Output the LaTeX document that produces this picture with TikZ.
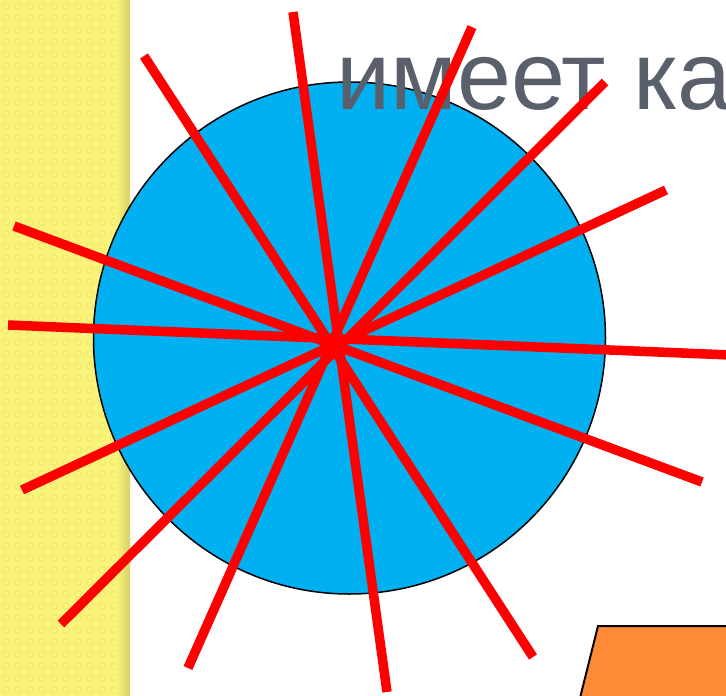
\documentclass[tikz,border=0pt]{standalone}
\usepackage{fontspec}
\setmainfont{Liberation Sans}
\definecolor{strip}{RGB}{250,244,122}
\definecolor{stripdot}{RGB}{244,236,114}
\definecolor{stripdark}{RGB}{215,208,100}
\definecolor{circfill}{RGB}{0,176,240}
\definecolor{textgray}{RGB}{89,95,107}
\definecolor{orangefill}{RGB}{255,138,56}
\tikzset{
  ray/.style={draw=red, line width=9.5pt, line cap=butt},
  disc/.style={fill=circfill, draw=black, line width=1.5pt},
  plate/.style={fill=orangefill, draw=black, line width=2pt},
  title/.style={anchor=base west, inner sep=0pt, text=textgray, font=\fontsize{97}{100}\selectfont}
}
\begin{document}
\begin{tikzpicture}[x=1pt,y=-1pt]
\useasboundingbox (0,0) rectangle (726,696);
\begin{scope}
\clip (0,0) rectangle (726,696);
\fill[white] (0,0) rectangle (726,696);
\fill[strip] (0,0) rectangle (130,696);
\foreach \i in {0,...,10}{
  \foreach \j in {0,...,58}{
    \draw[stripdot, line width=1.5pt] ({\i*12+6},{\j*12+6}) circle (3.5pt);
  }
}
\shade[left color=strip, right color=stripdark] (116,0) rectangle (130,696);
\path[disc] (349.5,338) circle (256pt);
\node[title] (t) at (336,109) {имеет ка};
\coordinate (a1) at (293,12);   \coordinate (b1) at (387,692);
\coordinate (a2) at (472,27);   \coordinate (b2) at (188,668);
\coordinate (a3) at (605,82);   \coordinate (b3) at (61,624);
\coordinate (a4) at (666,190);  \coordinate (b4) at (22,490);
\coordinate (a5) at (730,355);  \coordinate (b5) at (8,325);
\coordinate (a6) at (702,482);  \coordinate (b6) at (14,226);
\coordinate (a7) at (533,657);  \coordinate (b7) at (144,56);
\foreach \k in {1,...,7}{ \draw[ray] (a\k) -- (b\k); }
\path[plate] (598,626) -- (740,626) -- (740,710) -- (577,710) -- cycle;
\end{scope}
\end{tikzpicture}
\end{document}
